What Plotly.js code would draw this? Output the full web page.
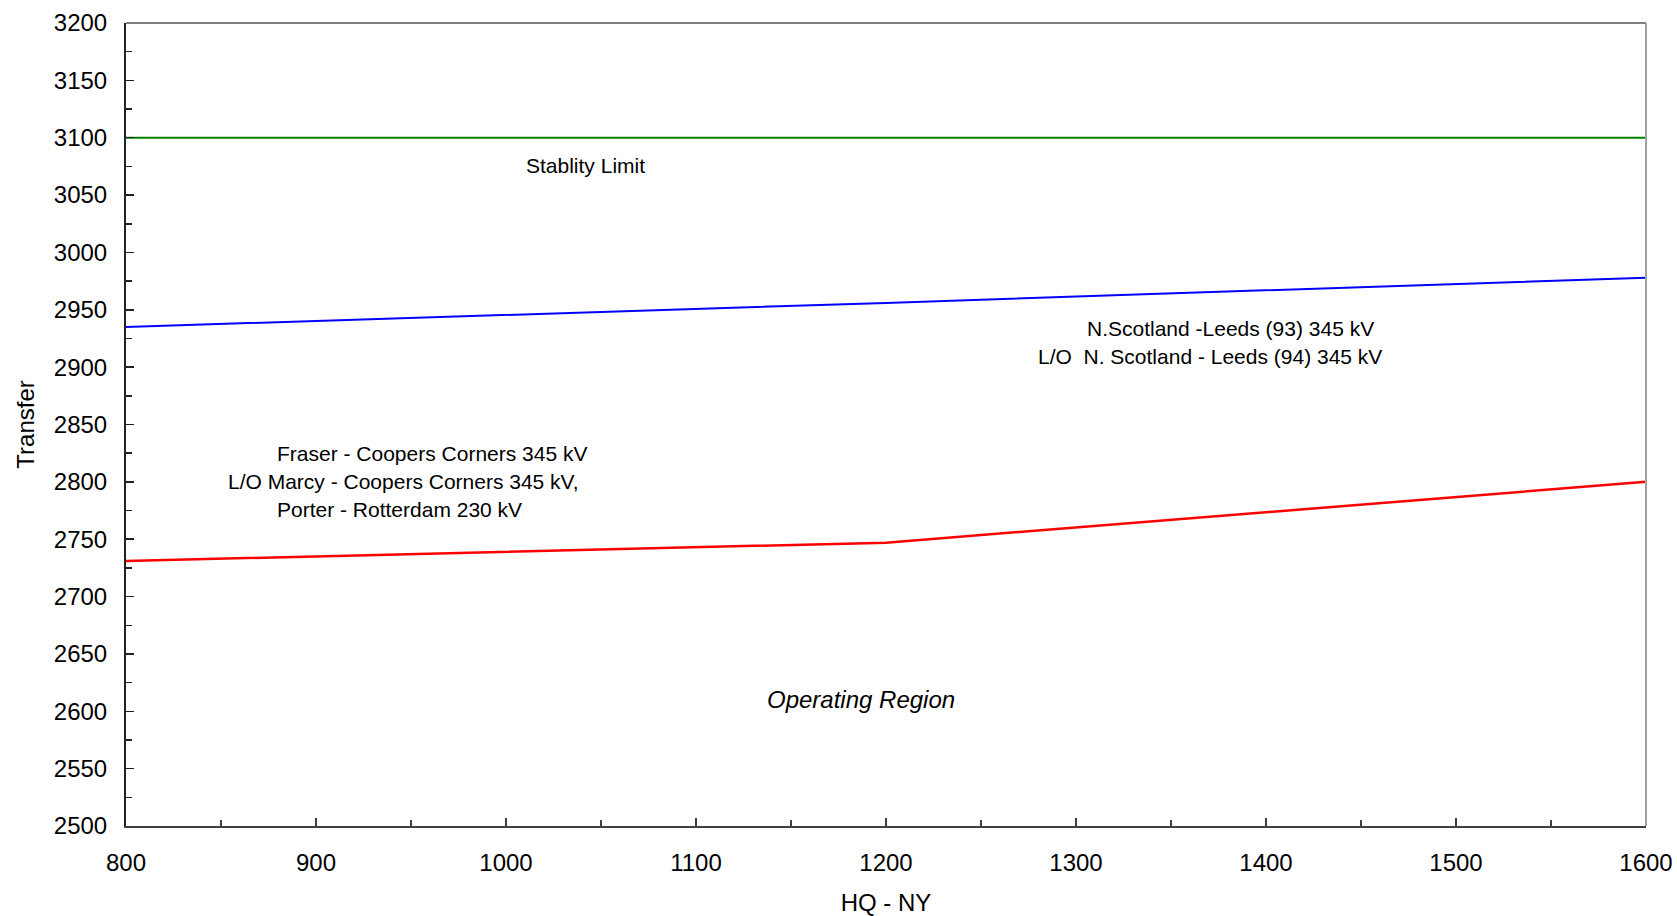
<!DOCTYPE html>
<html>
<head>
<meta charset="utf-8">
<script src="https://cdn.plot.ly/plotly-3.0.1.min.js"></script>
<style>html,body{margin:0;padding:0;background:#fff}#chart{width:1677px;height:916px}</style>
</head>
<body>
<div id="chart"></div>
<script>
// Data
const hqNy = [800, 1200, 1600];
const stabilityLimit = [3100, 3100, 3100];
const scotlandLeedsLimit = [2935, 2956, 2978];
const fraserCoopersLimit = [2731, 2747, 2800];

const xTicks = [800, 900, 1000, 1100, 1200, 1300, 1400, 1500, 1600];
const yTicks = [2500, 2550, 2600, 2650, 2700, 2750, 2800, 2850, 2900, 2950, 3000, 3050, 3100, 3150, 3200];

const FONT = 'Liberation Sans, Arial, sans-serif';

const traces = [
  {x: hqNy, y: stabilityLimit, mode: 'lines', line: {color: '#008000', width: 2}, name: 'Stablity Limit'},
  {x: hqNy, y: scotlandLeedsLimit, mode: 'lines', line: {color: '#0000ff', width: 2}, name: 'N.Scotland - Leeds'},
  {x: hqNy, y: fraserCoopersLimit, mode: 'lines', line: {color: '#ff0000', width: 2.5}, name: 'Fraser - Coopers Corners'}
];

function note(text, x, y, anchor, italic, size) {
  return {text: text, x: x, y: y, xref: 'x', yref: 'y', showarrow: false,
    xanchor: anchor, yanchor: 'middle',
    font: {family: FONT, size: size || 21, color: '#000', style: italic ? 'italic' : 'normal'}};
}

const layout = {
  width: 1677, height: 916,
  margin: {l: 126, r: 31, t: 23, b: 90, pad: 0},
  paper_bgcolor: '#fff', plot_bgcolor: '#fff',
  showlegend: false,
  font: {family: FONT, color: '#000'},
  xaxis: {
    range: [800, 1600], tickvals: xTicks, ticktext: xTicks.map(String),
    showgrid: false, zeroline: false,
    showline: true, linecolor: '#404040', linewidth: 2,
    ticks: 'inside', ticklen: 8, tickwidth: 1.5, tickcolor: '#404040',
    minor: {dtick: 50, ticks: 'inside', ticklen: 6, tickwidth: 1.5, tickcolor: '#404040', showgrid: false},
    tickfont: {family: FONT, size: 24, color: '#000'},
    ticklabelstandoff: 14,
    title: {text: 'HQ - NY', font: {family: FONT, size: 24, color: '#000'}, standoff: 22}
  },
  yaxis: {
    range: [2500, 3200], tickvals: yTicks, ticktext: yTicks.map(String),
    showgrid: false, zeroline: false,
    showline: true, linecolor: '#222', linewidth: 2,
    ticks: 'inside', ticklen: 8, tickwidth: 1.5, tickcolor: '#222',
    minor: {dtick: 25, ticks: 'inside', ticklen: 6, tickwidth: 1.5, tickcolor: '#222', showgrid: false},
    tickfont: {family: FONT, size: 24, color: '#000'},
    ticklabelstandoff: 12,
    title: {text: 'Transfer', font: {family: FONT, size: 24, color: '#000'}, standoff: 12}
  },
  shapes: [
    {type: 'line', xref: 'paper', yref: 'paper', x0: 0, x1: 1, y0: 1, y1: 1, line: {color: '#808080', width: 2}},
    {type: 'line', xref: 'paper', yref: 'paper', x0: 1, x1: 1, y0: 0, y1: 1, line: {color: '#a0a0a0', width: 2}}
  ],
  annotations: [
    note('Stablity Limit', 1042, 3076, 'center'),
    note('N.Scotland -Leeds (93) 345 kV', 1304.7, 2934, 'left'),
    note('L/O\u00a0\u00a0N. Scotland - Leeds (94) 345 kV', 1279, 2909, 'left'),
    note('Fraser - Coopers Corners 345 kV', 878.4, 2825, 'left'),
    note('L/O Marcy - Coopers Corners 345 kV,', 852.6, 2800, 'left'),
    note('Porter - Rotterdam 230 kV', 878.4, 2776, 'left'),
    note('Operating Region', 1186.8, 2610, 'center', true, 24)
  ]
};

Plotly.newPlot('chart', traces, layout, {displayModeBar: false, staticPlot: true});
</script>
</body>
</html>
